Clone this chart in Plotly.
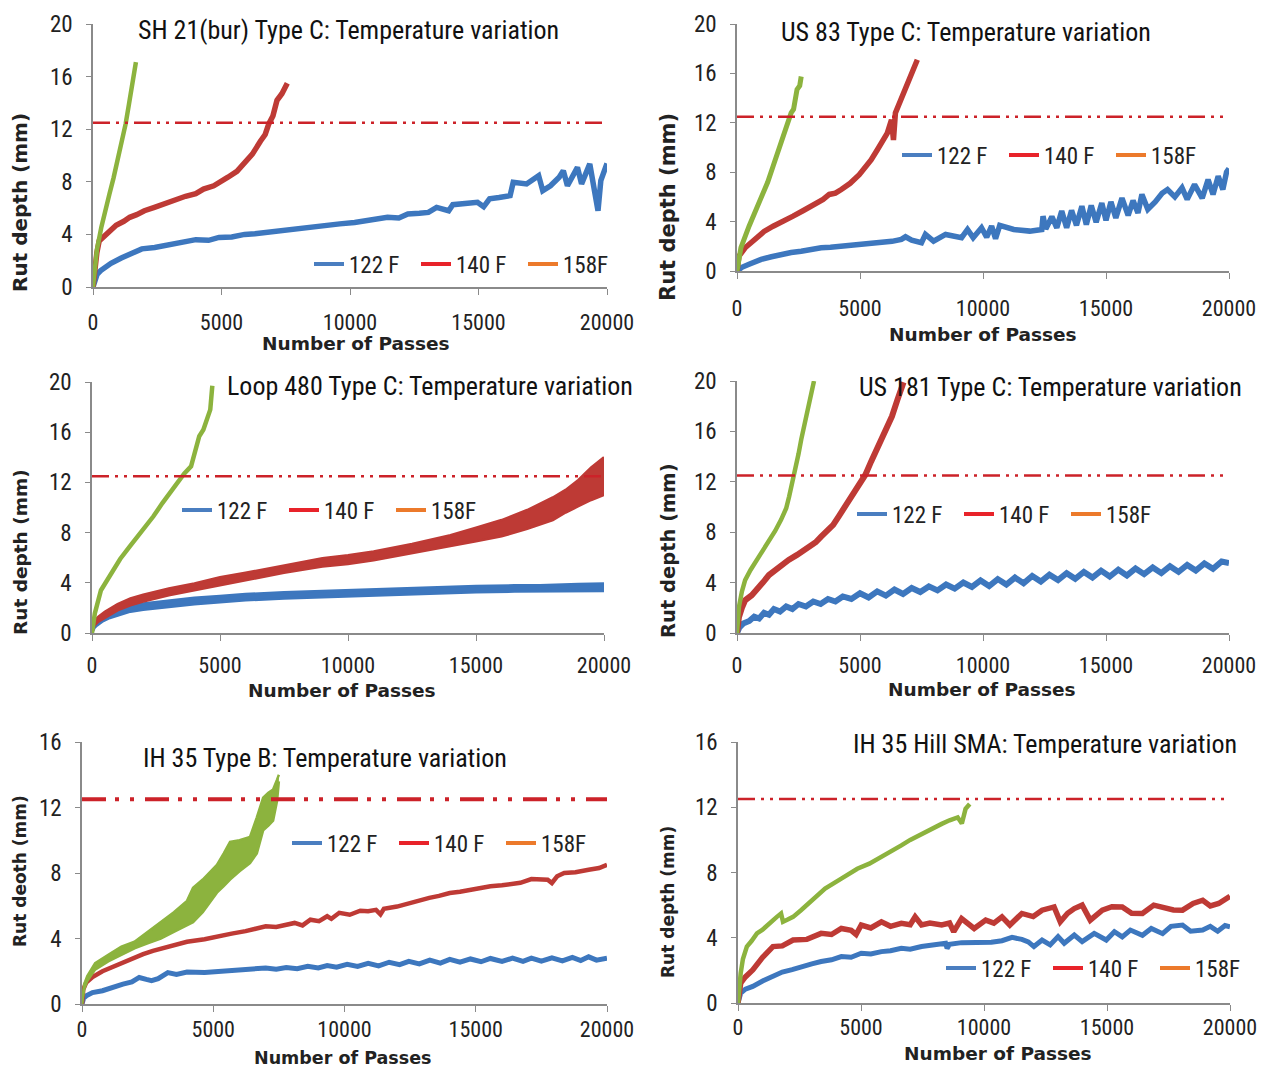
import plotly.graph_objects as go

W, H = 1270, 1072

# ---------------- data (rut depth in mm vs number of passes) ----------------
# SH 21(bur) Type C
sh21_122_x = [0, 80, 160, 300, 480, 700, 1100, 1500, 1900, 2400, 3000, 3500, 4000, 4500, 4900, 5400, 5900, 6300,
              6700, 7100, 7500, 8300, 9070, 9600, 10180, 10800, 11460, 11900, 12250, 12700, 13050, 13370, 13600,
              13840, 14000, 14500, 14960, 15200, 15430, 15800, 16230, 16350, 16870, 17340, 17500, 17800, 18140,
              18300, 18460, 18850, 19010, 19330, 19490, 19650, 19760, 20000]
sh21_122_y = [0, 0.6, 0.97, 1.25, 1.5, 1.8, 2.2, 2.5, 2.9, 3.0, 3.26, 3.4, 3.6, 3.55, 3.77, 3.8, 4.0, 4.05,
              4.15, 4.2, 4.3, 4.5, 4.66, 4.8, 4.9, 5.05, 5.3, 5.25, 5.55, 5.6, 5.67, 6.05, 5.9,
              5.8, 6.26, 6.35, 6.44, 6.1, 6.7, 6.8, 6.95, 7.96, 7.84, 8.47, 7.33, 7.7, 8.35,
              8.85, 7.7, 9.1, 7.84, 9.36, 7.84, 5.8, 8.1, 9.4]
sh21_140_x = [0, 60, 150, 240, 400, 640, 900, 1200, 1430, 1700, 2000, 2390, 2700, 3000, 3340, 3600, 4000, 4300,
              4700, 5000, 5250, 5600, 5890, 6200, 6520, 6700, 6840, 7000, 7160, 7350, 7560]
sh21_140_y = [0, 1.5, 2.6, 3.5, 3.8, 4.27, 4.7, 5.0, 5.3, 5.5, 5.8, 6.06, 6.3, 6.5, 6.8, 6.9, 7.1, 7.45,
              7.7, 8.0, 8.35, 8.8, 9.4, 10.1, 11.1, 11.6, 12.4, 13.0, 14.2, 14.7, 15.5]
sh21_158_x = [0, 60, 150, 320, 480, 640, 800, 950, 1100, 1270, 1400, 1550, 1670]
sh21_158_y = [0, 1.5, 2.8, 4.5, 5.9, 7.07, 8.3, 9.6, 10.9, 12.4, 13.9, 15.8, 17.1]

# US 83 Type C
us83_122_x = [0, 200, 490, 980, 1400, 1790, 2200, 2610, 3000, 3420, 3800, 4240, 4650, 5050, 5450, 5870, 6300,
              6680, 6850, 7100, 7500, 7660, 7990, 8480, 9130, 9370, 9600, 9940, 10150, 10350, 10510, 10680,
              11250, 11900, 12390, 12440, 12550, 12800, 13000, 13200, 13400, 13600, 13800, 14020, 14200, 14400,
              14600, 14830, 15000, 15200, 15400, 15650, 15900, 16100, 16300, 16460, 16700, 17000, 17280, 17500,
              17800, 18090, 18300, 18600, 18910, 19150, 19350, 19560, 19750, 19900, 20000]
us83_122_y = [0, 0.3, 0.54, 0.94, 1.15, 1.35, 1.5, 1.6, 1.75, 1.88, 1.92, 2.0, 2.1, 2.15, 2.2, 2.29, 2.4,
              2.56, 2.77, 2.5, 2.29, 2.96, 2.42, 2.96, 2.7, 3.36, 2.7, 3.5, 2.75, 3.63, 2.61, 3.69,
              3.36, 3.23, 3.36, 4.44, 3.4, 4.4, 3.5, 4.85, 3.5, 4.9, 3.7, 5.25, 3.75, 5.3,
              3.95, 5.5, 4.1, 5.6, 4.3, 5.9, 4.5, 5.7, 4.7, 6.2, 5.0, 5.6, 6.3, 6.6,
              6.0, 6.73, 5.8, 7.0, 5.9, 7.4, 6.2, 7.67, 6.6, 8.0, 8.3]
us83_140_x = [0, 80, 330, 600, 815, 1100, 1470, 1900, 2280, 2700, 3100, 3500, 3750, 4000, 4240, 4600, 4970,
              5220, 5450, 5700, 5900, 6110, 6280, 6330, 6360, 6440, 6650, 6850, 7100, 7330]
us83_140_y = [0, 1.2, 1.88, 2.3, 2.7, 3.2, 3.63, 4.0, 4.44, 4.9, 5.3, 5.8, 6.2, 6.3, 6.6, 7.1, 7.8,
              8.35, 9.0, 9.8, 10.5, 11.17, 12.25, 11.5, 10.6, 12.8, 13.8, 14.9, 16.0, 17.1]
us83_158_x = [0, 60, 160, 490, 750, 980, 1250, 1470, 1790, 2000, 2200, 2300, 2440, 2550, 2610]
us83_158_y = [0, 1.0, 1.9, 3.63, 4.8, 5.8, 7.2, 8.5, 10.4, 11.6, 12.8, 13.1, 14.7, 15.0, 15.75]

# Loop 480 Type C (scatter bands: lower / upper envelope)
lp480_122_x = [0, 100, 200, 400, 700, 1000, 1500, 2000, 3000, 4000, 5000, 6000, 7500, 9000, 10000, 11000,
               12500, 14000, 15000, 16500, 17500, 19000, 20000]
lp480_122_lo = [0, 0.4, 0.6, 0.9, 1.2, 1.4, 1.7, 1.85, 2.1, 2.3, 2.45, 2.6, 2.75, 2.85, 2.95, 3.0,
                3.1, 3.2, 3.25, 3.3, 3.3, 3.35, 3.35]
lp480_122_hi = [0, 0.9, 1.1, 1.4, 1.7, 1.9, 2.2, 2.35, 2.6, 2.8, 2.95, 3.1, 3.25, 3.35, 3.45, 3.5,
                3.6, 3.7, 3.75, 3.8, 3.8, 3.9, 3.95]
lp480_140_x = [0, 100, 250, 500, 1000, 1500, 2000, 3000, 4000, 5000, 6000, 7500, 9000, 10000, 11000, 12500,
               14000, 15000, 16000, 17000, 18000, 18500, 19000, 19500, 20000]
lp480_140_lo = [0, 0.6, 0.9, 1.2, 1.8, 2.2, 2.5, 3.0, 3.4, 3.85, 4.2, 4.8, 5.3, 5.5, 5.8, 6.35,
                6.9, 7.3, 7.7, 8.3, 9.0, 9.6, 10.1, 10.6, 11.0]
lp480_140_hi = [0, 1.0, 1.3, 1.7, 2.3, 2.75, 3.05, 3.55, 3.95, 4.45, 4.8, 5.4, 5.95, 6.2, 6.5, 7.1,
                7.8, 8.4, 9.0, 9.8, 10.8, 11.4, 12.2, 13.2, 14.0]
lp480_158_x = [0, 50, 110, 350, 600, 830, 1100, 1470, 1800, 2110, 2400, 2750, 3050, 3390, 3600, 3870, 4000,
               4190, 4350, 4500, 4620, 4700]
lp480_158_y = [0, 0.9, 1.55, 3.41, 4.3, 5.0, 5.9, 6.88, 7.7, 8.48, 9.3, 10.35, 11.2, 12.2, 12.7, 13.28, 14.3,
               15.68, 16.2, 17.0, 17.8, 19.7]

# US 181 Type C
us181_122_x = [0, 100, 250, 500, 700, 900, 1100, 1300, 1500, 1750, 2000, 2250, 2500, 2800, 3100, 3400, 3700,
               4000, 4300, 4650, 5000, 5350, 5700, 6050, 6400, 6750, 7100, 7450, 7800, 8150, 8500, 8850, 9200,
               9550, 9900, 10250, 10600, 10950, 11300, 11650, 12000, 12350, 12700, 13050, 13400, 13750, 14100,
               14450, 14800, 15150, 15500, 15850, 16200, 16550, 16900, 17250, 17600, 17950, 18300, 18650, 19000,
               19350, 19700, 20000]
us181_122_y = [0, 0.45, 0.75, 0.95, 1.3, 1.15, 1.6, 1.45, 1.9, 1.7, 2.1, 1.9, 2.3, 2.1, 2.5, 2.3, 2.7,
               2.5, 2.9, 2.7, 3.15, 2.82, 3.3, 2.97, 3.45, 3.1, 3.57, 3.25, 3.7, 3.38, 3.85, 3.52, 4.0,
               3.65, 4.17, 3.73, 4.28, 3.85, 4.4, 3.95, 4.52, 4.08, 4.63, 4.2, 4.75, 4.3, 4.85,
               4.4, 4.95, 4.48, 5.02, 4.57, 5.12, 4.67, 5.2, 4.75, 5.3, 4.85, 5.4, 4.95, 5.52,
               5.1, 5.67, 5.55]
us181_140_x = [0, 80, 200, 330, 600, 815, 1050, 1300, 1550, 1790, 2100, 2440, 2700, 2930, 3200, 3420, 3700,
               3910, 4150, 4400, 4650, 4890, 5220, 5450, 5700, 6030, 6300, 6520, 6770]
us181_140_y = [0, 1.27, 2.0, 2.6, 3.0, 3.4, 4.0, 4.6, 5.0, 5.4, 5.8, 6.2, 6.5, 6.85, 7.2, 7.65, 8.1,
               8.58, 9.3, 10.04, 10.8, 11.5, 12.56, 13.6, 14.7, 16.0, 17.2, 18.5, 19.9]
us181_158_x = [0, 30, 80, 200, 330, 550, 815, 1050, 1300, 1550, 1790, 2000, 2120, 2250, 2360, 2500, 2610,
               2780, 2930, 3050, 3130]
us181_158_y = [0, 1.0, 2.07, 3.3, 4.2, 5.0, 5.8, 6.5, 7.38, 8.1, 8.98, 9.9, 10.84, 11.9, 12.96, 14.2, 15.35,
               16.9, 18.27, 19.2, 20.0]

# IH 35 Type B
ih35b_122_x = [0, 60, 160, 400, 780, 1200, 1560, 1900, 2180, 2450, 2650, 2900, 3110, 3270, 3600, 4000, 4670,
               5000, 5400, 5800, 6230, 6700, 7000, 7400, 7780, 8200, 8600, 9000, 9340, 9700, 10100, 10500,
               10900, 11300, 11700, 12100, 12450, 12850, 13250, 13650, 14010, 14400, 14800, 15200, 15560, 16000,
               16400, 16800, 17120, 17500, 17900, 18300, 18680, 19000, 19300, 19600, 20000]
ih35b_122_y = [0, 0.35, 0.5, 0.7, 0.81, 1.05, 1.21, 1.35, 1.62, 1.5, 1.42, 1.55, 1.72, 1.92, 1.8, 1.95, 1.92,
               1.95, 2.0, 2.08, 2.12, 2.1, 2.2, 2.13, 2.23, 2.15, 2.3, 2.2, 2.35, 2.25, 2.42, 2.3,
               2.48, 2.33, 2.55, 2.4, 2.6, 2.45, 2.68, 2.5, 2.72, 2.55, 2.75, 2.58, 2.78, 2.6,
               2.8, 2.6, 2.8, 2.62, 2.82, 2.63, 2.85, 2.65, 2.88, 2.68, 2.8]
ih35b_140_x = [0, 50, 160, 400, 780, 1200, 1560, 2000, 2330, 2700, 3110, 3600, 4000, 4670, 5200, 5700, 6230,
               6700, 7000, 7400, 7780, 8100, 8400, 8700, 9030, 9340, 9500, 9800, 10200, 10600, 10900, 11200,
               11370, 11500, 12000, 12450, 12850, 13230, 13600, 14010, 14400, 14790, 15200, 15560, 16000, 16340,
               16700, 17120, 17500, 17740, 17900, 18100, 18370, 18800, 19300, 19700, 20000]
ih35b_140_y = [0, 0.9, 1.3, 1.65, 2.0, 2.3, 2.53, 2.8, 3.04, 3.25, 3.44, 3.65, 3.8, 3.95, 4.15, 4.3, 4.45,
               4.6, 4.75, 4.7, 4.86, 4.95, 4.8, 5.15, 5.06, 5.36, 5.2, 5.57, 5.45, 5.7, 5.67, 5.75,
               5.47, 5.81, 5.95, 6.17, 6.3, 6.48, 6.6, 6.78, 6.85, 6.98, 7.05, 7.19, 7.25, 7.29,
               7.4, 7.63, 7.6, 7.59, 7.39, 7.8, 8.0, 8.05, 8.2, 8.3, 8.5]
ih35b_158_x = [0, 80, 200, 500, 1000, 1500, 2000, 2500, 3000, 3500, 4000, 4230, 4600, 5140, 5400, 5640, 6000,
               6400, 6660, 6900, 7100, 7280, 7430, 7500]
ih35b_158_lo = [0, 0.9, 1.4, 2.1, 2.6, 3.0, 3.4, 3.7, 4.0, 4.4, 4.8, 5.0, 5.6, 6.8, 7.2, 7.6, 8.1,
                8.6, 9.2, 10.6, 10.9, 11.2, 12.4, 13.6]
ih35b_158_hi = [0, 1.2, 1.7, 2.5, 3.0, 3.5, 3.8, 4.4, 5.0, 5.6, 6.3, 7.1, 7.6, 8.5, 9.2, 9.9, 10.0,
                10.2, 11.4, 12.6, 12.9, 13.1, 13.7, 14.0]

# IH 35 Hill SMA
ihsma_122_x = [0, 40, 110, 300, 600, 1000, 1420, 1800, 2200, 2560, 3000, 3380, 3800, 4200, 4600, 5010, 5400,
               5830, 6200, 6640, 7000, 7460, 8000, 8440, 8500, 8600, 9090, 9500, 9910, 10300, 10730, 11140,
               11540, 11800, 12030, 12360, 12690, 13010, 13260, 13670, 13990, 14480, 14970, 15300, 15620, 15950,
               16440, 16800, 17260, 17600, 18070, 18400, 18890, 19200, 19500, 19800, 20000]
ihsma_122_y = [0, 0.35, 0.61, 0.85, 1.02, 1.35, 1.63, 1.9, 2.05, 2.24, 2.4, 2.54, 2.65, 2.85, 2.8, 3.05, 3.0,
               3.15, 3.2, 3.35, 3.3, 3.46, 3.55, 3.66, 3.35, 3.6, 3.7, 3.72, 3.76, 3.72, 3.82, 4.02,
               3.9, 3.75, 3.46, 3.86, 3.56, 4.07, 3.66, 4.17, 3.76, 4.27, 3.86, 4.37, 4.05, 4.47,
               4.15, 4.57, 4.25, 4.7, 4.78, 4.4, 4.47, 4.7, 4.4, 4.75, 4.67]
ihsma_140_x = [0, 40, 110, 300, 600, 1000, 1420, 1800, 2240, 2800, 3380, 3800, 4200, 4600, 4800, 5010, 5400,
               5830, 6200, 6640, 7000, 7200, 7460, 7800, 8280, 8600, 8770, 9090, 9600, 10070, 10400, 10730,
               11050, 11540, 12000, 12360, 12850, 13100, 13400, 13670, 13990, 14320, 14810, 15200, 15620, 16000,
               16440, 16900, 17260, 17700, 18070, 18500, 18890, 19200, 19540, 19800, 20000]
ihsma_140_y = [0, 0.7, 1.22, 1.6, 2.03, 2.8, 3.46, 3.5, 3.86, 3.9, 4.27, 4.2, 4.57, 4.45, 4.2, 4.78, 4.6,
               4.98, 4.7, 4.88, 4.8, 5.28, 4.78, 4.9, 4.78, 4.9, 4.37, 5.18, 4.57, 5.08, 4.9, 5.28,
               4.78, 5.49, 5.3, 5.69, 5.89, 4.98, 5.5, 5.79, 6.0, 5.08, 5.69, 5.9, 5.89, 5.5,
               5.49, 6.0, 5.89, 5.7, 5.69, 6.1, 6.3, 5.95, 6.1, 6.3, 6.54]
ihsma_158_x = [0, 40, 110, 200, 360, 550, 770, 1000, 1260, 1580, 1750, 1830, 2000, 2240, 2560, 2800, 3050,
               3540, 4200, 4850, 5340, 5830, 6200, 6640, 7000, 7460, 7900, 8280, 8600, 8930, 9100, 9250, 9420]
ihsma_158_y = [0, 0.9, 1.83, 2.7, 3.46, 3.8, 4.27, 4.5, 4.88, 5.28, 5.49, 4.98, 5.1, 5.28, 5.69, 6.0, 6.4,
               7.01, 7.62, 8.23, 8.54, 8.94, 9.3, 9.66, 10.0, 10.37, 10.7, 10.98, 11.2, 11.38, 11.0, 11.9, 12.2]

legend_names = ["122 F", "140 F", "158F"]
rut_limit = 12.5
x_ticks = [0, 5000, 10000, 15000, 20000]
x_ticktext = ["0", "5000", "10000", "15000", "20000"]

# ---------------- styling ----------------
C_BLUE, C_RED, C_GREEN = "#3D77BE", "#BE3A35", "#8CB33E"
LEG_COLORS = ["#4A7EC0", "#E8232A", "#EC7A2B"]
C_LIMIT = "#CC2229"
C_AXIS = "#8A8A8A"
NARROW = "Liberation Sans Narrow, Arial Narrow, Roboto Condensed, Liberation Sans, sans-serif"
BOLD = "DejaVu Sans, Verdana, sans-serif"

# pixel boxes of each plot area: (left, right, top, bottom)
panels = [
    dict(box=(93, 607, 24, 287), ymax=20, title="SH 21(bur) Type C: Temperature variation", tpos=(348, 30),
         xt=(356, 344), yt=(20, 203), ytitle="Rut depth (mm)", ytsize=20, xtsize=18.5, leg=(309, 264),
         xstand=9, dash="17px,6px,3px,6px,3px,6px", dw=2.5),
    dict(box=(737, 1229, 24, 271), ymax=20, title="US 83 Type C: Temperature variation", tpos=(966, 32),
         xt=(983, 334), yt=(668, 207), ytitle="Rut depth (mm)", ytsize=21, xtsize=18.5, leg=(897, 155),
         xstand=11, dash="17px,6px,3px,6px,3px,6px", dw=2.5),
    dict(box=(92, 604, 382, 633), ymax=20, title="Loop 480 Type C: Temperature variation", tpos=(430, 386),
         xt=(342, 690), yt=(20, 552), ytitle="Rut depth (mm)", ytsize=18.5, xtsize=18.5, leg=(177, 510),
         xstand=6, dash="17px,6px,3px,6px,3px,6px", dw=2.5),
    dict(box=(737, 1229, 381, 633), ymax=20, title="US 181 Type C: Temperature variation", tpos=(1050, 387),
         xt=(982, 689), yt=(668, 551), ytitle="Rut depth (mm)", ytsize=19.5, xtsize=18.5, leg=(852, 514),
         xstand=6, dash="17px,6px,3px,6px,3px,6px", dw=2.5),
    dict(box=(82, 607, 742, 1004), ymax=16, title="IH 35 Type B: Temperature variation", tpos=(325, 758),
         xt=(342, 1058), yt=(20, 871), ytitle="Rut deoth (mm)", ytsize=17, xtsize=17.5, leg=(287, 843),
         xstand=-1, dash="24px,9px,4px,11px,4px,11px", dw=4),
    dict(box=(738, 1230, 742, 1003), ymax=16, title="IH 35 Hill SMA: Temperature variation", tpos=(1045, 744),
         xt=(998, 1053), yt=(668, 902), ytitle="Rut depth (mm)", ytsize=17, xtsize=18.5, leg=(941, 968),
         xstand=-2, dash="17px,6px,3px,6px,3px,6px", dw=2.5),
]

# series per panel: ("line", x, y, color, width) or ("band", x, lo, hi, color)
series = [
    [("line", sh21_122_x, sh21_122_y, C_BLUE, 5.5), ("line", sh21_140_x, sh21_140_y, C_RED, 5.5),
     ("line", sh21_158_x, sh21_158_y, C_GREEN, 4.5)],
    [("line", us83_122_x, us83_122_y, C_BLUE, 5.5), ("line", us83_140_x, us83_140_y, C_RED, 5.5),
     ("line", us83_158_x, us83_158_y, C_GREEN, 5)],
    [("band", lp480_122_x, lp480_122_lo, lp480_122_hi, C_BLUE), ("band", lp480_140_x, lp480_140_lo, lp480_140_hi, C_RED),
     ("line", lp480_158_x, lp480_158_y, C_GREEN, 4.5)],
    [("line", us181_122_x, us181_122_y, C_BLUE, 6), ("line", us181_140_x, us181_140_y, C_RED, 6),
     ("line", us181_158_x, us181_158_y, C_GREEN, 4.5)],
    [("line", ih35b_122_x, ih35b_122_y, C_BLUE, 5), ("line", ih35b_140_x, ih35b_140_y, C_RED, 4.5),
     ("band", ih35b_158_x, ih35b_158_lo, ih35b_158_hi, C_GREEN)],
    [("line", ihsma_122_x, ihsma_122_y, C_BLUE, 5), ("line", ihsma_140_x, ihsma_140_y, C_RED, 5.5),
     ("line", ihsma_158_x, ihsma_158_y, C_GREEN, 4.5)],
]

fig = go.Figure()
annotations = []
layout = dict(width=W, height=H, margin=dict(l=0, r=0, t=0, b=0, autoexpand=False),
              paper_bgcolor="white", plot_bgcolor="white", showlegend=True)

for i, (p, ser) in enumerate(zip(panels, series), start=1):
    sfx = "" if i == 1 else str(i)
    xa, ya = "x" + sfx, "y" + sfx
    lg = "legend" + sfx
    l, r, t, b = p["box"]

    for s in ser:
        if s[0] == "line":
            _, xs, ys, col, w = s
            fig.add_trace(go.Scatter(x=xs, y=ys, mode="lines", line=dict(color=col, width=w),
                                     showlegend=False, xaxis=xa, yaxis=ya, hoverinfo="skip"))
        else:
            _, xs, lo, hi, col = s
            fig.add_trace(go.Scatter(x=xs, y=lo, mode="lines", line=dict(color=col, width=2.5),
                                     showlegend=False, xaxis=xa, yaxis=ya, hoverinfo="skip"))
            fig.add_trace(go.Scatter(x=xs, y=hi, mode="lines", line=dict(color=col, width=2.5),
                                     fill="tonexty", fillcolor=col,
                                     showlegend=False, xaxis=xa, yaxis=ya, hoverinfo="skip"))

    # 12.5 mm rut limit
    fig.add_trace(go.Scatter(x=[0, 20000], y=[rut_limit, rut_limit], mode="lines",
                             line=dict(color=C_LIMIT, width=p["dw"], dash=p["dash"]),
                             showlegend=False, xaxis=xa, yaxis=ya, hoverinfo="skip"))

    # legend keys
    for name, col in zip(legend_names, LEG_COLORS):
        fig.add_trace(go.Scatter(x=[None], y=[None], mode="lines", line=dict(color=col, width=4),
                                 name=name, legend=lg, xaxis=xa, yaxis=ya))

    layout["xaxis" + sfx] = dict(
        domain=[l / W, r / W], anchor=ya, range=[0, 20000], tickvals=x_ticks, ticktext=x_ticktext,
        showline=True, linecolor=C_AXIS, linewidth=1.5, ticks="outside", ticklen=6, tickcolor=C_AXIS,
        showgrid=False, zeroline=False, ticklabelstandoff=p["xstand"],
        tickfont=dict(family=NARROW, size=22, color="#222222"), fixedrange=True)
    layout["yaxis" + sfx] = dict(
        domain=[1 - b / H, 1 - t / H], anchor=xa, range=[0, p["ymax"]], dtick=4, tick0=0,
        showline=True, linecolor=C_AXIS, linewidth=1.5, ticks="outside", ticklen=5, tickcolor=C_AXIS,
        showgrid=False, zeroline=False, ticklabelstandoff=9,
        tickfont=dict(family=NARROW, size=23, color="#222222"), fixedrange=True)
    layout[lg] = dict(orientation="h", x=p["leg"][0] / W, y=1 - p["leg"][1] / H,
                      xanchor="left", yanchor="middle", bgcolor="rgba(0,0,0,0)",
                      font=dict(family=NARROW, size=23, color="#222222"),
                      itemwidth=30, traceorder="normal", entrywidth=62)

    annotations.append(dict(text=p["title"], x=p["tpos"][0] / W, y=1 - p["tpos"][1] / H,
                            xref="paper", yref="paper", xanchor="center", yanchor="middle",
                            showarrow=False, font=dict(family=NARROW, size=26, color="#111111")))
    annotations.append(dict(text="<b>Number of Passes</b>", x=p["xt"][0] / W, y=1 - p["xt"][1] / H,
                            xref="paper", yref="paper", xanchor="center", yanchor="middle",
                            showarrow=False, font=dict(family=BOLD, size=p["xtsize"], color="#222222")))
    annotations.append(dict(text="<b>" + p["ytitle"] + "</b>", x=p["yt"][0] / W, y=1 - p["yt"][1] / H,
                            xref="paper", yref="paper", xanchor="center", yanchor="middle", textangle=-90,
                            showarrow=False, font=dict(family=BOLD, size=p["ytsize"], color="#222222")))

layout["annotations"] = annotations
fig.update_layout(**layout)
fig.write_html("out.html")
